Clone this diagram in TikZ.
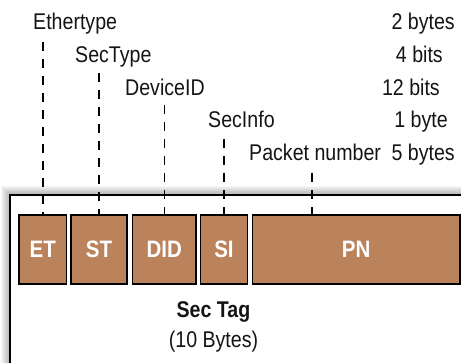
\documentclass[tikz,border=0pt]{standalone}
\usepackage{fontspec}
\setmainfont{Liberation Sans}
\definecolor{fieldbrown}{RGB}{186,131,92}
\definecolor{inktext}{RGB}{20,20,20}
% slightly condensed-looking lettering: same width, taller glyphs
\newcommand\tallt[1]{\scalebox{1}[1.16]{#1}}
\tikzset{
  field/.style={draw=black, line width=1.5pt, fill=fieldbrown, minimum height=69pt,
    inner sep=0pt, text=white, font=\bfseries\fontsize{20.5}{22}\selectfont},
  lbl/.style={inner sep=0pt, text=inktext, font=\fontsize{19.6}{22}\selectfont},
  guide/.style={line width=1.4pt, dash pattern=on 9pt off 8pt},
}
\begin{document}
\begin{tikzpicture}[x=1pt,y=-1pt]
\useasboundingbox (0,0) rectangle (461,363);

% outer frame with a soft shadow, running off the right and bottom
\begin{scope}
  \clip (0,0) rectangle (461,363);
  \foreach \i in {1,...,9}
    \fill[black,opacity=0.035] (9.5-\i,195.5-\i) rectangle (480,380);
  \fill[white] (9.5,195.5) rectangle (480,380);
  \draw[line width=2pt] (480,195.5) -- (9.5,195.5) -- (9.5,380);
\end{scope}

% field boxes
\node[field, minimum width=47.5pt]  (ET)  at (42.8,249.5)  {\tallt{ET}};
\node[field, minimum width=56pt]    (ST)  at (99,249.5)    {\tallt{ST}};
\node[field, minimum width=63.3pt]  (DID) at (164.3,249.5) {\tallt{DID}};
\node[field, minimum width=47.4pt]  (SI)  at (224,249.5)   {\tallt{SI}};
\node[field, minimum width=207.7pt] (PN)  at (356.2,249.5) {\tallt{PN}};

% field names and sizes
\node[lbl, anchor=base west] (nET)  at (33,30)   {\tallt{Ethertype}};
\node[lbl, anchor=base west] (nST)  at (75,63)   {\tallt{SecType}};
\node[lbl, anchor=base west] (nDID) at (125,96)  {\tallt{DeviceID}};
\node[lbl, anchor=base west] (nSI)  at (208,128) {\tallt{SecInfo}};
\node[lbl, anchor=base west] (nPN)  at (249,161) {\tallt{Packet number}};

\node[lbl, anchor=base east] (sET)  at (455,30)  {\tallt{2 bytes}};
\node[lbl, anchor=base east] (sST)  at (443,63)  {\tallt{4 bits}};
\node[lbl, anchor=base east] (sDID) at (440,96)  {\tallt{12 bits}};
\node[lbl, anchor=base east] (sSI)  at (448,128) {\tallt{1 byte}};
\node[lbl, anchor=base east] (sPN)  at (455,161) {\tallt{5 bytes}};

% dashed guides from each name down to its field
\coordinate (tET)  at (42.8,42);
\coordinate (tST)  at (99,73);
\coordinate (tDID) at (164.3,105);
\coordinate (tSI)  at (224,139);
\coordinate (tPN)  at (312,173);
\draw[guide] (tET)  -- (ET.north);
\draw[guide] (tST)  -- (ST.north);
\draw[guide] (tDID) -- (DID.north);
\draw[guide] (tSI)  -- (SI.north);
\draw[guide] (tPN)  -- (tPN |- PN.north);

% caption
\node[lbl, anchor=base, font=\bfseries\fontsize{19.6}{22}\selectfont] (cap) at (213.5,318) {\tallt{Sec Tag}};
\node[lbl, anchor=base] (capsize) at (213.5,348) {\tallt{(10 Bytes)}};
\end{tikzpicture}
\end{document}
